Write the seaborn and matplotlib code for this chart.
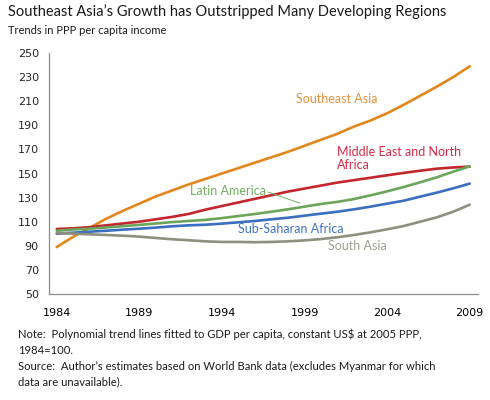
import matplotlib
matplotlib.use("Agg")
import matplotlib.pyplot as plt
import seaborn as sns
import pandas as pd

# data (polynomial trend lines, 1984=100)
years = list(range(1984, 2010))
southeast_asia = [89, 97.5, 105, 112.5, 119, 125, 131, 136, 141, 145.5, 150, 154.5,
                  159, 163.5, 168, 173, 178, 183, 189, 194, 200, 207, 214.5, 222, 230, 239]
mena = [104, 104.5, 105.5, 107, 108.5, 110, 112, 114, 116.5, 120, 123, 126, 129,
        132, 135, 137.5, 140, 142.5, 144.5, 146.5, 148.5, 150.5, 152.3, 154, 155, 155.7]
latin_america = [102.5, 103.5, 104.2, 105.2, 106.3, 107.4, 108.5, 109.7, 110.6, 111.5,
                 113, 114.7, 116.4, 118.3, 120.3, 122.5, 124.7, 126.5, 128.8, 131.9,
                 135.2, 138.8, 142.7, 146.8, 151.5, 156]
sub_saharan = [100, 100.9, 101.7, 102.5, 103.4, 104.2, 105.1, 106.2, 107, 107.5, 108.4,
               109.5, 110.6, 112, 113.3, 115, 116.7, 118.3, 120.3, 122.5, 125, 127.4,
               130.8, 134.1, 137.7, 141.6]
south_asia = [100.6, 100.1, 99.5, 99, 98.4, 97.6, 96.5, 95.4, 94.6, 93.7, 93.2, 93.2,
              93, 93.2, 93.7, 94.5, 95.6, 97.1, 99, 101.2, 103.7, 106.4, 110, 113.6,
              118.3, 124.1]

regions = ["Southeast Asia", "Middle East and North Africa", "Latin America",
           "Sub-Saharan Africa", "South Asia"]
line_colors = ["#E3861B", "#C4262E", "#6BA55B", "#3A6EBF", "#8F8F80"]
text_colors = ["#E6913A", "#D42A45", "#72AE62", "#3F72C4", "#9E9E90"]

df = pd.DataFrame({
    "year": years * 5,
    "value": southeast_asia + mena + latin_america + sub_saharan + south_asia,
    "region": sum([[r] * len(years) for r in regions], []),
})

sns.set_style("white")
plt.rcParams["font.family"] = ["DejaVu Sans"]

fig = plt.figure(figsize=(4.9, 4.0), dpi=100)
ax = fig.add_axes([0.099, 0.265, 0.8765, 0.6025])

sns.lineplot(data=df, x="year", y="value", hue="region", hue_order=regions,
             palette=line_colors, linewidth=1.9, legend=False, ax=ax)

ax.set_xlim(1983.5, 2009.5)
ax.set_ylim(50, 250)
ax.set_yticks(range(50, 251, 20))
ax.set_xticks(range(1984, 2010, 5))
ax.set_xticks([y - 0.5 for y in range(1984, 2011)], minor=True)
ax.tick_params(axis="x", which="major", length=0, labelsize=8, pad=10, colors="#000000")
ax.tick_params(axis="x", which="minor", length=5, width=0.8, color="#8c8c8c", direction="out")
ax.tick_params(axis="y", length=5, width=0.8, color="#8c8c8c", labelsize=8, pad=2, direction="out")
ax.set_xlabel("")
ax.set_ylabel("")
for side in ["top", "right"]:
    ax.spines[side].set_visible(False)
for side in ["left", "bottom"]:
    ax.spines[side].set_color("#8c8c8c")
    ax.spines[side].set_linewidth(0.9)

lab_font = ["Lato", "DejaVu Sans"]
ax.text(1998.5, 211.8, "Southeast Asia", color=text_colors[0], fontsize=9,
        family=lab_font, va="center")
ax.text(2000.95, 173, "Middle East and North\nAfrica", color=text_colors[1], fontsize=9,
        family=lab_font, va="top", linespacing=1.15)
ax.text(1992.05, 135.5, "Latin America", color=text_colors[2], fontsize=9,
        family=lab_font, va="center")
ax.plot([1996.8, 1998.7], [134.6, 125.5], color=text_colors[2], linewidth=0.7)
ax.text(1995.0, 103.9, "Sub-Saharan Africa", color=text_colors[3], fontsize=9,
        family=lab_font, va="center")
ax.text(2000.4, 89.8, "South Asia", color=text_colors[4], fontsize=9,
        family=lab_font, va="center")

fig.text(8 / 490, 1 - 12 / 400, "Southeast Asia\u2019s Growth has Outstripped Many Developing Regions",
         fontsize=10.5, family=lab_font, va="center", color="#1a1a1a")
fig.text(8 / 490, 1 - 30 / 400, "Trends in PPP per capita income",
         fontsize=8, family=lab_font, va="center", color="#1a1a1a")

notes = ["Note:  Polynomial trend lines fitted to GDP per capita, constant US$ at 2005 PPP,",
         "1984=100.",
         "Source:  Author\u2019s estimates based on World Bank data (excludes Myanmar for which",
         "data are unavailable)."]
for i, line in enumerate(notes):
    fig.text(18 / 490, 1 - (334 + 16 * i) / 400, line, fontsize=8.1, family=lab_font,
             va="center", color="#1a1a1a")

fig.savefig("out.png", dpi=100, facecolor="white")
